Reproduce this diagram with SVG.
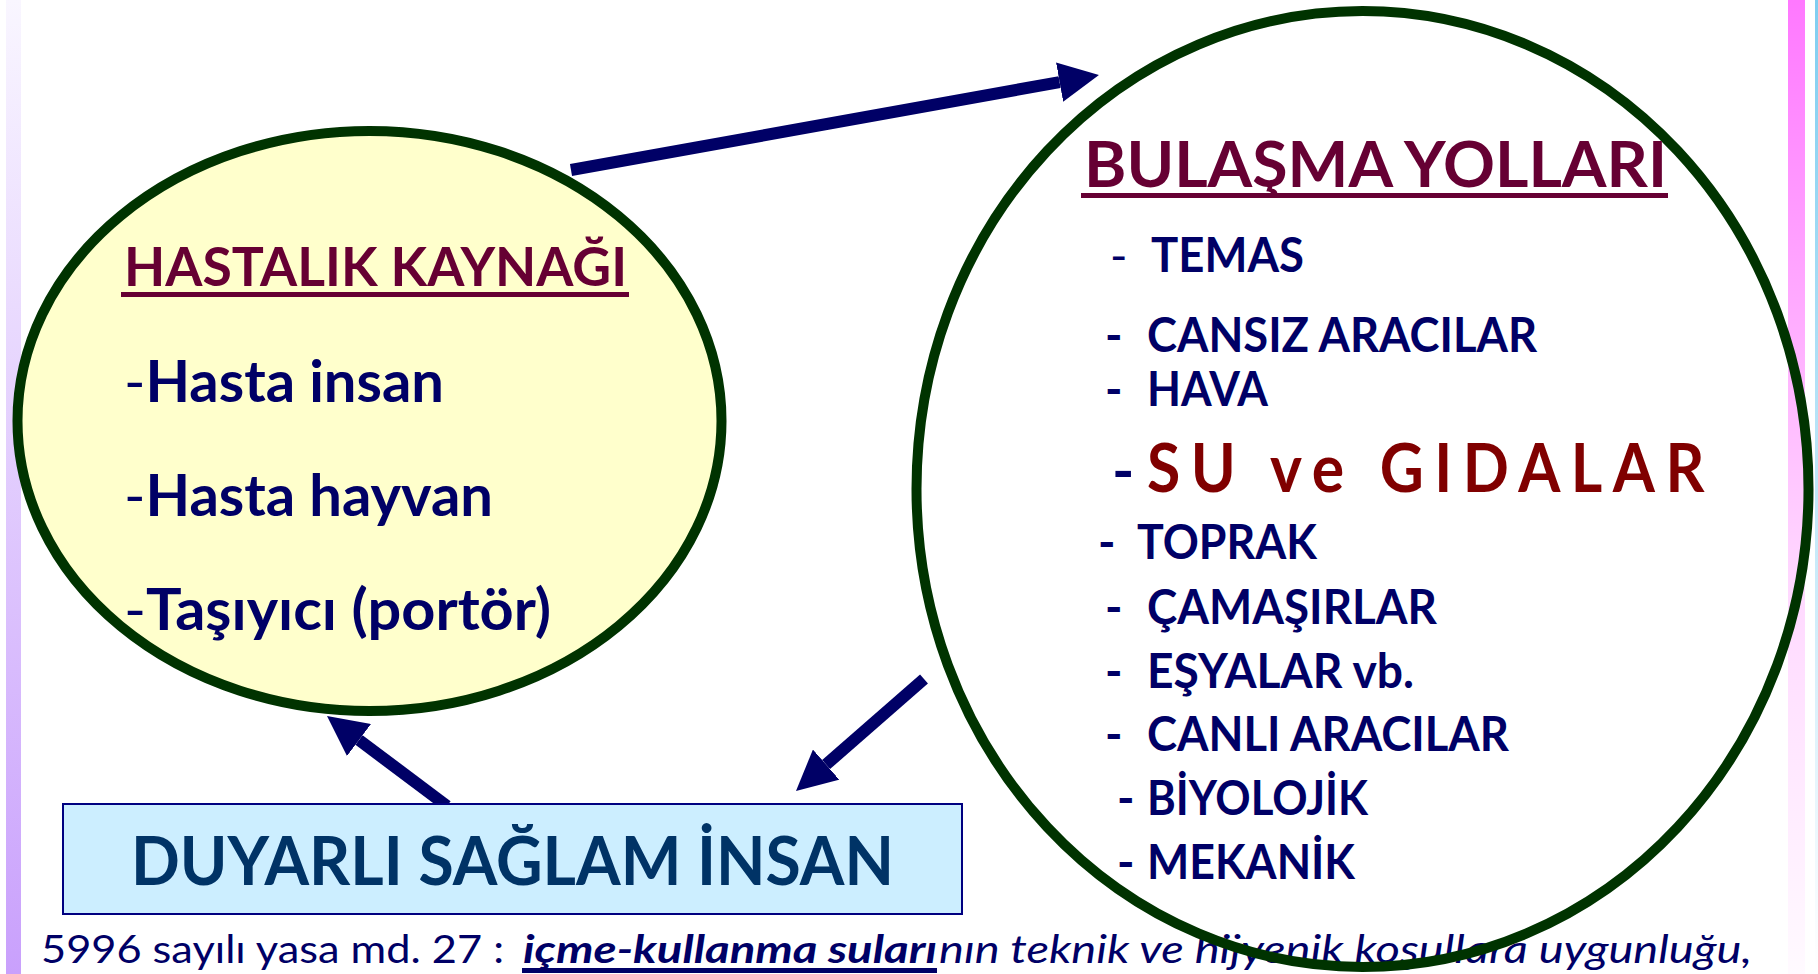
<svg xmlns="http://www.w3.org/2000/svg" width="1818" height="974" viewBox="0 0 1818 974">
<style>
.b{font-family:Lato,"Open Sans","Liberation Sans",sans-serif;font-weight:bold}
.r{font-family:Lato,"Open Sans","Liberation Sans",sans-serif;font-weight:normal}
.navy{fill:#000066}
.head{fill:#660033}
.it{font-size:47px}
.ring{stroke:#003300;stroke-width:10}
.conn{stroke:#000066;stroke-width:12;fill:none;marker-end:url(#ah)}
</style>
<defs>
<linearGradient id="gl" x1="0" y1="0" x2="0" y2="1">
<stop offset="0" stop-color="#f9f6ff"/>
<stop offset="1" stop-color="#c9a0fc"/>
</linearGradient>
<linearGradient id="gp" x1="0" y1="0" x2="0" y2="1">
<stop offset="0" stop-color="#ff78ff"/>
<stop offset="0.6" stop-color="#ffd8ff"/>
<stop offset="1" stop-color="#fffaff"/>
</linearGradient>
<linearGradient id="gb" x1="0" y1="0" x2="0" y2="1">
<stop offset="0" stop-color="#7fcdf0"/>
<stop offset="1" stop-color="#ffffff"/>
</linearGradient>
<marker id="ah" markerUnits="userSpaceOnUse" viewBox="0 0 40 40" refX="0" refY="20" markerWidth="40" markerHeight="40" orient="auto">
<path d="M0,0 L40,20 L0,40 z" fill="#000066"/>
</marker>
</defs>
<rect x="0" y="0" width="1818" height="974" fill="#ffffff"/>
<rect x="6" y="0" width="15" height="974" fill="url(#gl)"/>
<rect x="1788" y="0" width="17" height="974" fill="url(#gp)"/>
<rect x="1815" y="0" width="3" height="974" fill="url(#gb)"/>

<g id="connectors">
<path class="conn" d="M571,170 L1059.6,82.1"/>
<path class="conn" d="M924,679 L826.1,764.6"/>
<path class="conn" d="M447,806 L359,740"/>
</g>

<g id="hastalik-kaynagi">
<ellipse class="ring" cx="369.5" cy="421" rx="352" ry="290" fill="#ffffcc"/>
<text class="b head" x="124" y="286" font-size="54" textLength="503" lengthAdjust="spacingAndGlyphs">HASTALIK KAYNAĞI</text>
<rect x="121" y="292" width="508" height="5" fill="#660033"/>
<text class="b navy" x="124" y="402" font-size="57" textLength="320" lengthAdjust="spacingAndGlyphs"><tspan font-weight="normal">-</tspan>Hasta insan</text>
<text class="b navy" x="124" y="516" font-size="57" textLength="369" lengthAdjust="spacingAndGlyphs"><tspan font-weight="normal">-</tspan>Hasta hayvan</text>
<text class="b navy" x="124" y="630" font-size="57" textLength="427" lengthAdjust="spacingAndGlyphs"><tspan font-weight="normal">-</tspan>Taşıyıcı (portör)</text>
</g>

<g id="duyarli-saglam-insan">
<rect x="63" y="804" width="899" height="110" fill="#cceeff" stroke="#000080" stroke-width="2"/>
<text class="b" x="131" y="885" font-size="66" fill="#003366" textLength="763" lengthAdjust="spacingAndGlyphs">DUYARLI SAĞLAM İNSAN</text>
</g>

<g id="yasa-notu">
<text class="r navy" x="41" y="963" font-size="39" textLength="463" lengthAdjust="spacingAndGlyphs">5996 sayılı yasa md. 27 :</text>
<text class="b navy" x="523" y="963" font-size="39" font-style="italic" textLength="414" lengthAdjust="spacingAndGlyphs">içme-kullanma suları</text>
<rect x="522" y="968" width="415" height="5" fill="#000066"/>
<text class="r navy" x="939" y="963" font-size="39" font-style="italic" textLength="813" lengthAdjust="spacingAndGlyphs">nın teknik ve hijyenik koşullara uygunluğu,</text>
</g>

<g id="bulasma-yollari">
<ellipse class="ring" cx="1362.5" cy="489" rx="446" ry="478" fill="none"/>
<text class="b head" x="1084" y="187" font-size="64" textLength="583" lengthAdjust="spacingAndGlyphs">BULAŞMA YOLLARI</text>
<rect x="1081" y="193" width="587" height="5" fill="#660033"/>
<text class="r navy it" x="1110" y="272">-</text>
<text class="b navy it" x="1151" y="272" textLength="153" lengthAdjust="spacingAndGlyphs">TEMAS</text>
<text class="b navy it" x="1105" y="352">-</text>
<text class="b navy it" x="1147" y="352" textLength="390" lengthAdjust="spacingAndGlyphs">CANSIZ ARACILAR</text>
<text class="b navy it" x="1105" y="406">-</text>
<text class="b navy it" x="1147" y="406" textLength="121" lengthAdjust="spacingAndGlyphs">HAVA</text>
<text class="b navy" x="1112" y="492" font-size="60">-</text>
<text class="b" transform="translate(1147,492) scale(0.92,1)" x="0" y="0" font-size="66" fill="#800000" textLength="606" lengthAdjust="spacing">SU ve GIDALAR</text>
<text class="b navy it" x="1098" y="559">-</text>
<text class="b navy it" x="1137" y="559" textLength="180" lengthAdjust="spacingAndGlyphs">TOPRAK</text>
<text class="b navy it" x="1105" y="624">-</text>
<text class="b navy it" x="1147" y="624" textLength="290" lengthAdjust="spacingAndGlyphs">ÇAMAŞIRLAR</text>
<text class="b navy it" x="1105" y="688">-</text>
<text class="b navy it" x="1147" y="688" textLength="267" lengthAdjust="spacingAndGlyphs">EŞYALAR vb.</text>
<text class="b navy it" x="1105" y="751">-</text>
<text class="b navy it" x="1147" y="751" textLength="362" lengthAdjust="spacingAndGlyphs">CANLI ARACILAR</text>
<text class="b navy it" x="1117" y="815">-</text>
<text class="b navy it" x="1147" y="815" textLength="221" lengthAdjust="spacingAndGlyphs">BİYOLOJİK</text>
<text class="b navy it" x="1117" y="879">-</text>
<text class="b navy it" x="1147" y="879" textLength="208" lengthAdjust="spacingAndGlyphs">MEKANİK</text>
</g>
</svg>
